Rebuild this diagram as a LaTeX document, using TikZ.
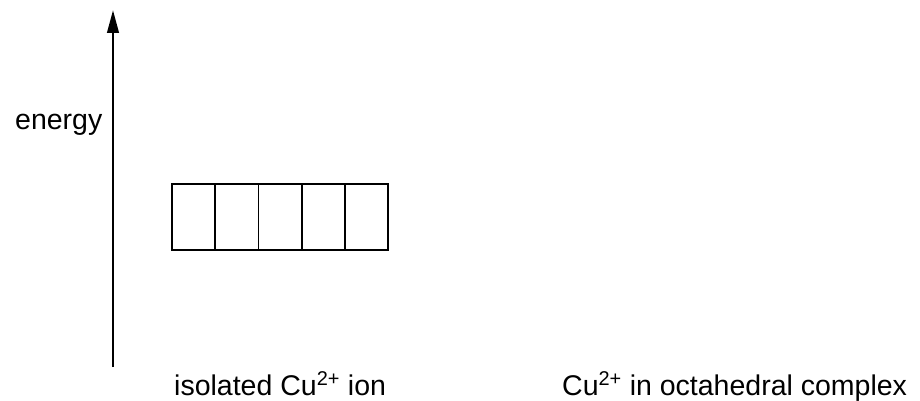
\documentclass[tikz,border=0pt]{standalone}
\usepackage{fontspec}
\setmainfont{Liberation Sans}
\usetikzlibrary{arrows.meta,positioning}

\begin{document}
\begin{tikzpicture}[x=1pt, y=-1pt,
        orbital/.style={rectangle, draw, line width=1.8pt, minimum width=43.2pt, minimum height=66pt, inner sep=0pt, outer sep=0pt},
        caption/.style={anchor=base west, inner sep=0pt, font=\fontsize{28.5}{34}\selectfont},
        arrow/.style={-{Triangle[length=23pt, width=11.5pt]}, line width=2.7pt}
    ]
        \useasboundingbox (0,0) rectangle (920,401);

        % Energy axis
        \coordinate (axis_bottom) at (113,367);
        \coordinate (axis_top) at (113,10);
        \draw[arrow] (axis_bottom) -- (axis_top);
        \node[caption] (energy) at (15,129.5) {energy};

        % d orbitals
        \node[orbital] (d1) at (193.6,217) {};
        \node[orbital, right=0pt of d1] (d2) {};
        \node[orbital, right=0pt of d2] (d3) {};
        \node[orbital, right=0pt of d3] (d4) {};
        \node[orbital, right=0pt of d4] (d5) {};

        % Labels
        \node[caption] (isolated) at (174,395) {isolated Cu\textsuperscript{2+} ion};
        \node[caption] (complex) at (562,395) {Cu\textsuperscript{2+} in octahedral complex};
    \end{tikzpicture}
\end{document}
